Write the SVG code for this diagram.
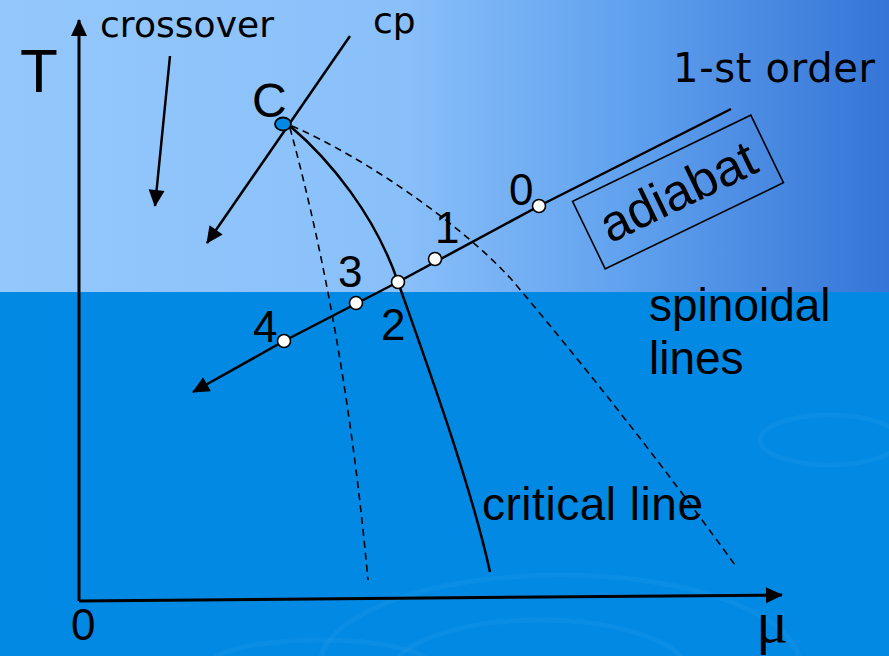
<svg xmlns="http://www.w3.org/2000/svg" width="889" height="656" viewBox="0 0 889 656">
<defs>
<linearGradient id="sky" x1="0" y1="0" x2="1" y2="0">
<stop offset="0" stop-color="#94c8fc"/>
<stop offset="0.45" stop-color="#8ac0fa"/>
<stop offset="0.72" stop-color="#5e9fed"/>
<stop offset="1" stop-color="#3575d7"/>
</linearGradient>
<marker id="ah" markerUnits="userSpaceOnUse" markerWidth="17" markerHeight="16" refX="16" refY="8" orient="auto" overflow="visible">
<path d="M0,0 L17,8 L0,16 z" fill="#000"/>
</marker>
<style>
.ln{fill:none;stroke:#000;stroke-width:2.5}
.ax{fill:none;stroke:#000;stroke-width:3}
.dash{fill:none;stroke:#000;stroke-width:1.6;stroke-dasharray:7 5}
.pt{fill:#fff;stroke:#000;stroke-width:1.6}
.lbl{font-family:"Liberation Sans",Arial,sans-serif;fill:#000}
.gth{font-family:"DejaVu Sans",sans-serif;font-size:36px;fill:#000}
.gth40{font-size:40px}
.num{font-family:"Liberation Sans",Arial,sans-serif;font-size:44px;fill:#000}
.rip{fill:none;stroke:#ffffff;stroke-opacity:0.035;stroke-width:5}
</style>
</defs>
<rect x="0" y="0" width="889" height="292" fill="url(#sky)"/>
<rect x="0" y="292" width="889" height="364" fill="#0289e4"/>
<g id="ripples">
<ellipse class="rip" cx="560" cy="665" rx="240" ry="90"/>
<ellipse class="rip" cx="540" cy="675" rx="150" ry="55"/>
<ellipse class="rip" cx="320" cy="665" rx="110" ry="25"/>
<ellipse class="rip" cx="830" cy="440" rx="70" ry="25"/>
</g>

<g id="connectors">
<line id="T-axis" class="ax" x1="79" y1="601" x2="79" y2="20" marker-end="url(#ah)"/>
<line id="mu-axis" class="ax" x1="79" y1="601" x2="782" y2="595" marker-end="url(#ah)"/>
<line id="crossover-arrow" class="ln" x1="170" y1="56" x2="155" y2="206" marker-end="url(#ah)"/>
<line id="cp-line" class="ln" x1="350" y1="36" x2="207" y2="243" marker-end="url(#ah)"/>
<path id="critical-line" class="ln" d="M290,126 C330,160 375,215 398,282 C420,345 470,480 490,572"/>
<path id="spinoidal-left" class="dash" d="M290,128 Q345,330 368,580"/>
<path id="spinoidal-right" class="dash" d="M292,126 C370,160 465,228 512,280 Q630,420 735,565"/>
<polyline id="adiabat" class="ln" points="731,109 539,206 398,282 284,341 193,392" marker-end="url(#ah)"/>
</g>

<g id="node-C">
<ellipse cx="283" cy="124" rx="8" ry="6.5" fill="#0289e4" stroke="#000" stroke-width="1.8"/>
<text class="lbl" x="252" y="117" font-size="48">C</text>
</g>
<g id="node-0"><circle class="pt" cx="539" cy="206" r="6.5"/><text class="num" x="509" y="205">0</text></g>
<g id="node-1"><circle class="pt" cx="435" cy="259" r="6.5"/><text class="num" x="435" y="243">1</text></g>
<g id="node-2"><circle class="pt" cx="398" cy="282" r="6.5"/><text class="num" x="381" y="340">2</text></g>
<g id="node-3"><circle class="pt" cx="356" cy="303" r="6.5"/><text class="num" x="338" y="287">3</text></g>
<g id="node-4"><circle class="pt" cx="284" cy="341" r="6.5"/><text class="num" x="253" y="342">4</text></g>

<g id="adiabat-box" transform="translate(678,192) rotate(-25.8)">
<rect x="-99" y="-37.5" width="198" height="75" fill="none" stroke="#000" stroke-width="1.6"/>
<text class="lbl" x="0" y="17" font-size="51" text-anchor="middle">adiabat</text>
</g>

<g id="labels">
<text class="lbl" x="20" y="92" font-size="62">T</text>
<text class="gth" x="100" y="37" textLength="174">crossover</text>
<text class="gth" x="373" y="33">cp</text>
<text class="gth gth40" x="673" y="82" textLength="202">1-st order</text>
<text class="lbl" x="649" y="321" font-size="46">spinoidal</text>
<text class="lbl" x="649" y="374" font-size="46">lines</text>
<text class="lbl" x="482" y="520" font-size="46" textLength="221">critical line</text>
<text class="num" x="71" y="640">0</text>
<text x="756" y="642" font-family="'Liberation Serif',serif" font-size="60" fill="#000">μ</text>
</g>
</svg>
